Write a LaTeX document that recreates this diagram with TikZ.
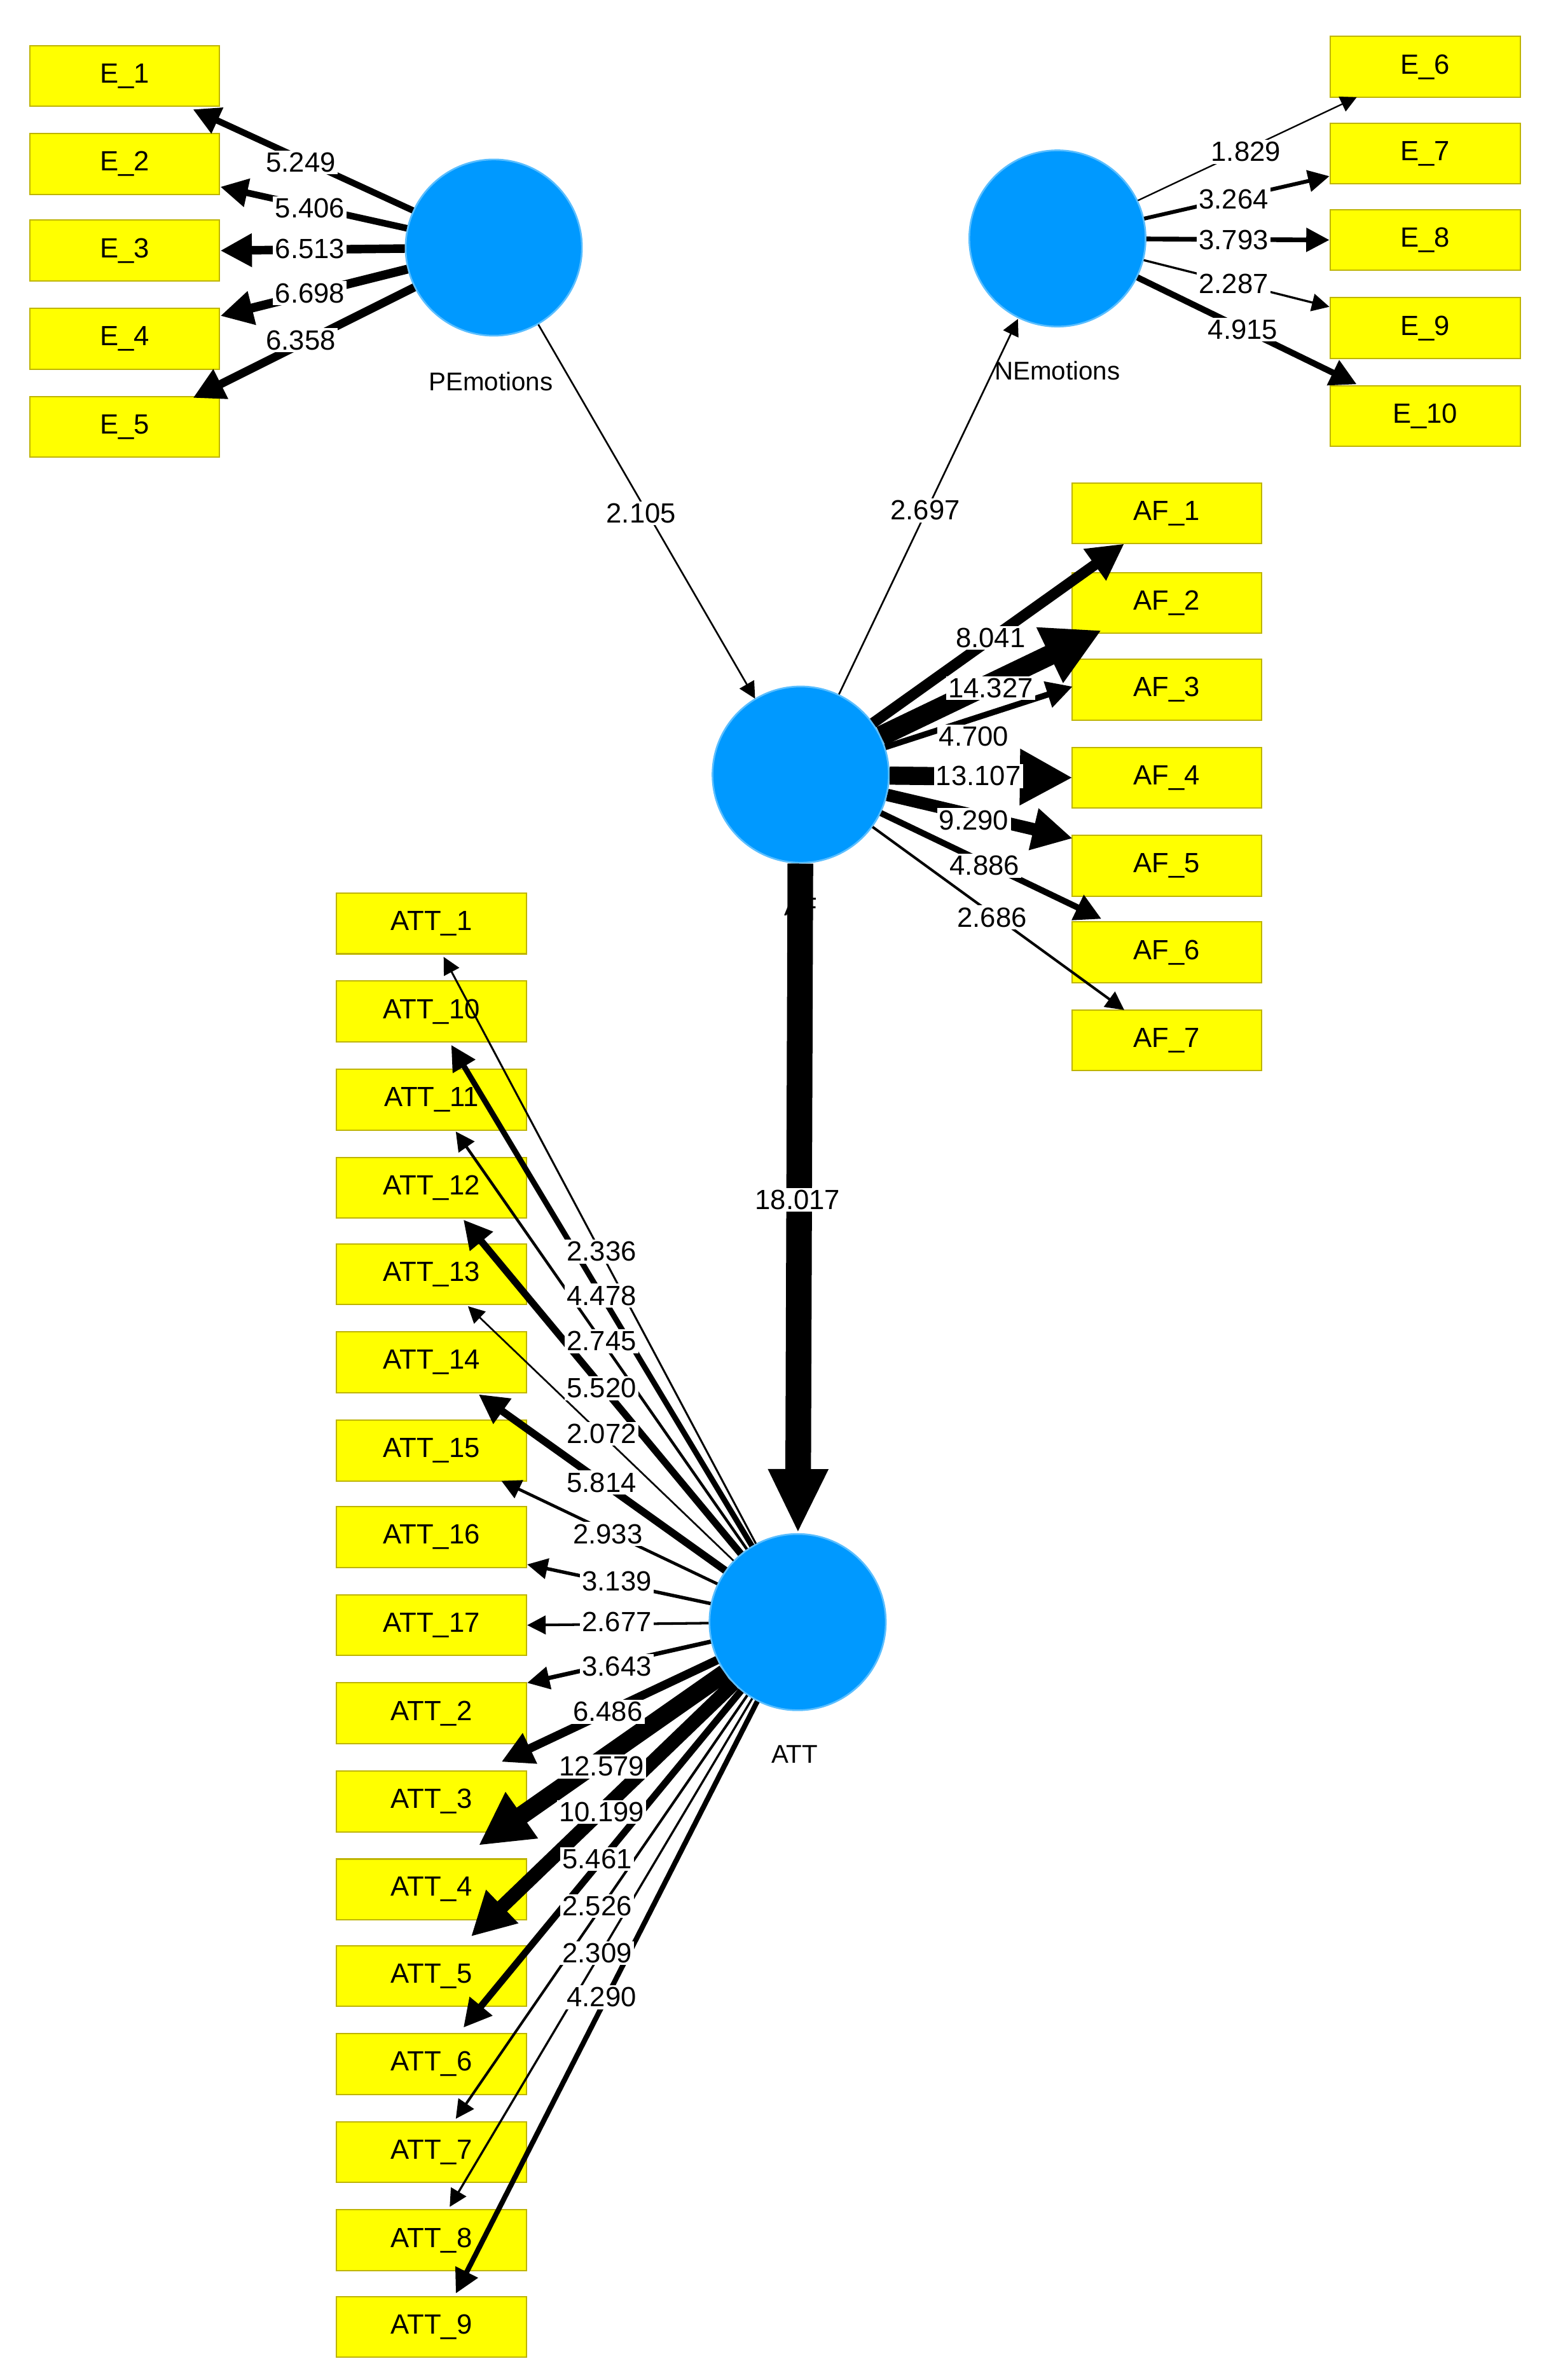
\documentclass[tikz,border=0pt]{standalone}
\usepackage{fontspec}
\setmainfont{Liberation Sans}
\usetikzlibrary{arrows.meta}
\definecolor{lv}{RGB}{0,153,255}
\definecolor{lvb}{RGB}{90,190,255}
\definecolor{mv}{RGB}{255,255,0}
\definecolor{mvb}{RGB}{190,180,0}
\begin{document}
\begin{tikzpicture}[x=0.025cm,y=-0.025cm,
  mvar/.style={draw=mvb,fill=mv,line width=0.6pt,minimum width=3.125cm,minimum height=1cm,inner sep=0pt,font=\fontsize{13}{15}\selectfont},
  lvar/.style={circle,draw=lvb,fill=lv,line width=0.8pt,minimum size=2.9cm,inner sep=0pt},
  lab/.style={font=\fontsize{12}{14}\selectfont},
  val/.style={fill=white,inner sep=1pt,font=\fontsize{13}{15}\selectfont},
  arr/.style={-{Triangle[length=6pt+2.2*#1,width=6pt+2.2*#1]},line width=#1}]
\useasboundingbox (0,0) rectangle (1024,1567);
% latent
\node[lvar] (pe) at (325,163) {};
\node[lvar] (ne) at (696,157) {};
\node[lvar] (af) at (527,510) {};
\node[lvar] (att) at (525,1068) {};
\node[lab] (pel) at (323,251) {PEmotions};
\node[lab] (nel) at (696,244) {NEmotions};
\node[lab] (afl) at (527,597) {AF};
\node[lab] (attl) at (523,1155) {ATT};
% indicator boxes
\foreach \n/\y in {1/50,2/108,3/165,4/223,5/281}{\node[mvar] (e\n) at (82,\y) {E\_\n};}
\foreach \n/\y in {6/44,7/101,8/158,9/216,10/274}{\node[mvar] (e\n) at (938,\y) {E\_\n};}
\foreach \n/\y in {1/338,2/397,3/454,4/512,5/570,6/627,7/685}{\node[mvar] (f\n) at (768,\y) {AF\_\n};}
\foreach \n/\y in {1/608,10/666,11/724,12/782,13/839,14/897,15/955,16/1012,17/1070,2/1128,3/1186,4/1244,5/1301,6/1359,7/1417,8/1475,9/1532}{\node[mvar] (a\n) at (284,\y) {ATT\_\n};}
% PE arrows
\foreach \n/\x/\y/\w in {1/127/72/3.0,2/145/123/3.1,3/145/165/4.0,4/145/208/4.2,5/127/262/3.9}{
  \coordinate (pt\n) at (\x,\y);
  \draw[arr=\w] (pe) -- (pt\n);}
% NE arrows
\foreach \n/\x/\y/\w in {6/893/64/0.7,7/875/116/1.8,8/875/158/2.2,9/875/202/1.0,10/893/253/2.9}{
  \coordinate (nt\n) at (\x,\y);
  \draw[arr=\w] (ne) -- (nt\n);}
% AF arrows
\foreach \n/\x/\y/\w in {1/740/358/5.0,2/725/415/9.5,3/706/452/2.8,4/706/512/8.5,5/706/552/5.8,6/725/605/2.9,7/740/665/1.2}{
  \coordinate (ft\n) at (\x,\y);
  \draw[arr=\w] (af) -- (ft\n);}
% ATT arrows
\foreach \n/\x/\y/\w in {1/292/630/0.9,10/297/688/2.6,11/300/745/1.3,12/305/803/3.3,13/308/860/0.8,14/315/918/3.5,15/330/975/1.4,16/347/1030/1.6,17/347/1070/1.2,2/347/1108/2.0,3/330/1160/4.0,4/315/1215/8.5,5/310/1275/6.5,6/305/1335/3.2,7/300/1395/1.2,8/296/1453/1.0,9/300/1510/2.4}{
  \coordinate (at\n) at (\x,\y);
  \draw[arr=\w] (att) -- (at\n);}
% structural
\coordinate (afin) at (497,460);
\coordinate (nein) at (670,210);
\draw[arr=0.8] (pe) -- (afin);
\draw[arr=0.8] (af) -- (nein);
\draw[-{Triangle[length=30pt,width=26pt]},line width=12pt] (af) -- (att);
% values
\node[val] (v1) at (422,338) {2.105};
\node[val] (v2) at (609,336) {2.697};
\node[val] (v3) at (525,790) {18.017};
\foreach \t/\x/\y [count=\i] in {5.249/198/107,5.406/204/137,6.513/204/164,6.698/204/193,6.358/198/224,
 1.829/820/100,3.264/812/131,3.793/812/158,2.287/812/187,4.915/818/217,
 8.041/652/420,14.327/652/453,4.700/641/485,13.107/644/511,9.290/641/540,4.886/648/570,2.686/653/604,
 2.336/396/824,4.478/396/853,2.745/396/883,5.520/396/914,2.072/396/944,5.814/396/976,2.933/400/1010,3.139/406/1041,2.677/406/1068,3.643/406/1097,6.486/400/1127,12.579/396/1163,10.199/396/1193,5.461/393/1224,2.526/393/1255,2.309/393/1286,4.290/396/1315}{
 \node[val] (w\i) at (\x,\y) {\t};}
\end{tikzpicture}
\end{document}
